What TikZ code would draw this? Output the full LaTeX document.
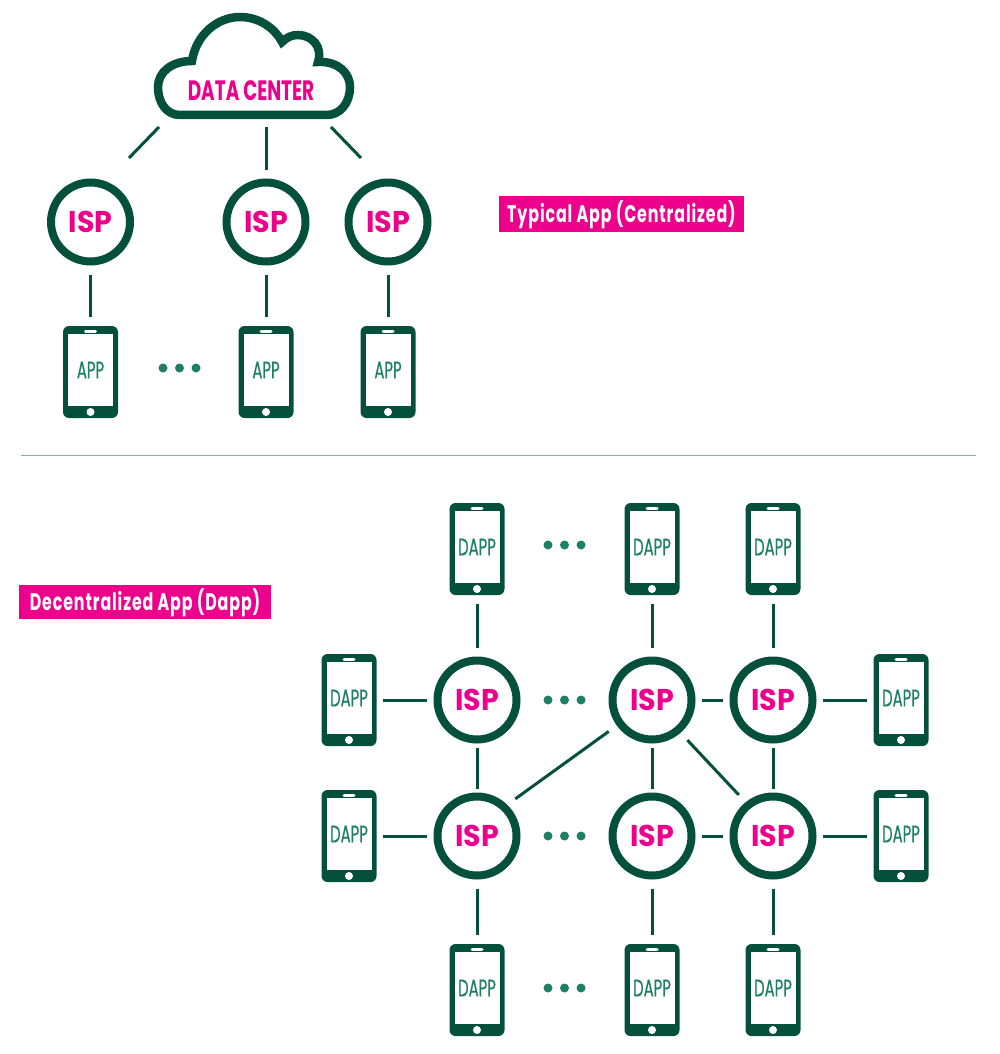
\documentclass[tikz,border=0pt]{standalone}
\usepackage{fontspec}
\setmainfont{Lato}
\newfontfamily\ispfont[FakeStretch=0.95]{Poppins}
\newfontfamily\narrowfont[FakeStretch=0.62, FakeBold=0.5]{Poppins}
\newfontfamily\cloudfont[FakeStretch=0.66]{Poppins}
\newfontfamily\tagfont[FakeStretch=0.66, LetterSpace=3.7]{Poppins}
\usetikzlibrary{positioning}
\definecolor{ispgreen}{HTML}{04503A}
\definecolor{appgreen}{HTML}{1D8062}
\definecolor{ispmagenta}{HTML}{EC008C}
\definecolor{rulegrey}{HTML}{8FABA1}
\newcommand{\ispdots}[3]{
	\foreach \i/\dx in {1/-16.5, 2/0, 3/16.5}
		\node [dot] (#1\i) at (#2+\dx,#3) {};
}

\begin{document}
\begin{tikzpicture}[x=1pt, y=-1pt, on grid,
		isp/.style={circle, draw=ispgreen, line width=8pt, fill=white, minimum size=79pt, inner sep=0pt, text=ispmagenta, font=\ispfont\fontsize{30pt}{30pt}\selectfont\bfseries},
		phone/.style={rectangle, fill=ispgreen, rounded corners=6pt, minimum width=55pt, minimum height=92pt, inner sep=0pt, text depth=4pt, text=appgreen, font=\narrowfont\fontsize{24pt}{24pt}\selectfont,
			path picture={
				\fill[white, sharp corners] ([shift={(5,8)}]path picture bounding box.north west) rectangle ([shift={(-5,-12)}]path picture bounding box.south east);
				\draw[white, line width=3pt, line cap=round] ([shift={(-5,5)}]path picture bounding box.north) -- ([shift={(5,5)}]path picture bounding box.north);
				\fill[white] ([shift={(0,-6)}]path picture bounding box.south) circle (4pt);
			}},
		dot/.style={circle, fill=appgreen, minimum size=9pt, inner sep=0pt},
		tag/.style={rectangle, fill=ispmagenta, text=white, inner sep=0pt, text height=23pt, text depth=6pt, font=\tagfont\fontsize{24pt}{24pt}\selectfont\bfseries},
		link/.style={line width=3pt, draw=ispgreen, shorten >=9pt, shorten <=9pt},
		sidelink/.style={line width=3pt, draw=ispgreen, shorten >=6.5pt, shorten <=6.5pt},
		midlink/.style={line width=3pt, draw=ispgreen, shorten >=4pt, shorten <=4pt},
		crosslink/.style={line width=3pt, draw=ispgreen, shorten >=10pt, shorten <=10pt}]
	\useasboundingbox (0,0) rectangle (1000,1054);

	% cloud
	\draw[ispgreen, line width=8.5pt, miter limit=4] (180,115) .. controls (166,115) and (158,102) .. (158,87) .. controls (158,72) and (172,61) .. (192,61)
		.. controls (196,35) and (217,17) .. (240,17) .. controls (258,17) and (274,27) .. (282,42)
		.. controls (287,37) and (292,35) .. (298,35) .. controls (312,35) and (323,47) .. (318,62)
		.. controls (338,61) and (350,73) .. (350,87) .. controls (350,103) and (340,115) .. (327,115) -- cycle;
	\node [text=ispmagenta, font=\cloudfont\fontsize{28pt}{28pt}\selectfont\bfseries] (dc) at (251,91) {DATA CENTER};

	% typical app
	\node [isp] (I1) at (90.5,222) {ISP};
	\node [isp, right=175.5pt of I1] (I2) {ISP};
	\node [isp, right=122pt of I2] (I3) {ISP};
	\node [phone, below=150pt of I1] (A1) {APP};
	\node [phone, below=150pt of I2] (A2) {APP};
	\node [phone, below=150pt of I3] (A3) {APP};
	\ispdots{t}{179.5}{368}
	\node [tag, minimum width=245pt, minimum height=36pt] (typical) at (621.5,214) {Typical App (Centralized)};

	\coordinate (C1) at (159,127);
	\coordinate (C2) at (266,127);
	\coordinate (C3) at (331,127);
	\draw[ispgreen, line width=3pt] (C1) -- ([shift={(38.5,-64)}]I1.center);
	\draw[ispgreen, line width=3pt] (C2) -- ([shift={(0,-52)}]I2.center);
	\draw[ispgreen, line width=3pt] (C3) -- ([shift={(-27,-64)}]I3.center);
	\path[link] (I1) edge (A1);
	\path[link] (I2) edge (A2);
	\path[link] (I3) edge (A3);

	% divider
	\coordinate (R1) at (21,455);
	\coordinate (R2) at (976,455);
	\draw[rulegrey, line width=1pt] (R1) -- (R2);

	% decentralized app
	\node [tag, minimum width=252pt, minimum height=34pt] (dapp) at (145,601.5) {Decentralized App (Dapp)};
	\node [isp] (S1) at (477,700) {ISP};
	\node [isp, right=175pt of S1] (S2) {ISP};
	\node [isp, right=121pt of S2] (S3) {ISP};
	\node [isp, below=136pt of S1] (S4) {ISP};
	\node [isp, below=136pt of S2] (S5) {ISP};
	\node [isp, below=136pt of S3] (S6) {ISP};
	\node [phone, above=151pt of S1] (P1) {DAPP};
	\node [phone, above=151pt of S2] (P2) {DAPP};
	\node [phone, above=151pt of S3] (P3) {DAPP};
	\node [phone, left=128pt of S1] (P4) {DAPP};
	\node [phone, right=128pt of S3] (P5) {DAPP};
	\node [phone, left=128pt of S4] (P6) {DAPP};
	\node [phone, right=128pt of S6] (P7) {DAPP};
	\node [phone, below=154pt of S4] (P8) {DAPP};
	\node [phone, below=154pt of S5] (P9) {DAPP};
	\node [phone, below=154pt of S6] (P10) {DAPP};
	\ispdots{a}{564.5}{545}
	\ispdots{b}{564.5}{700}
	\ispdots{c}{564.5}{836}
	\ispdots{d}{564.5}{988}

	\path[link] (S1) edge (P1);
	\path[link] (S2) edge (P2);
	\path[link] (S3) edge (P3);
	\path[sidelink] (S1) edge (P4);
	\path[sidelink] (S3) edge (P5);
	\path[sidelink] (S4) edge (P6);
	\path[sidelink] (S6) edge (P7);
	\path[link] (S4) edge (P8);
	\path[link] (S5) edge (P9);
	\path[link] (S6) edge (P10);
	\path[sidelink] (S2) edge (S3);
	\path[sidelink] (S5) edge (S6);
	\path[midlink] (S1) edge (S4);
	\path[midlink] (S2) edge (S5);
	\path[midlink] (S3) edge (S6);
	\path[crosslink] (S2.216) edge (S4.46);
	\path[crosslink] (S2.311) edge (S6.129);
\end{tikzpicture}
\end{document}
